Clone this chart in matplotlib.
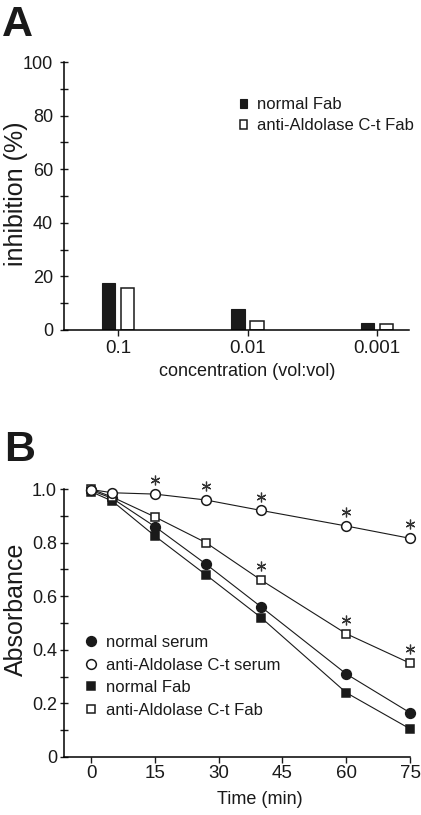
import numpy as np
import matplotlib
matplotlib.use("Agg")
import matplotlib.pyplot as plt
from matplotlib.lines import Line2D
from matplotlib.patches import Patch

plt.rcParams['font.family'] = ['Liberation Sans', 'DejaVu Sans']
plt.rcParams['text.color'] = '#1a1a1a'
plt.rcParams['axes.labelcolor'] = '#1a1a1a'
plt.rcParams['xtick.color'] = '#1a1a1a'
plt.rcParams['ytick.color'] = '#1a1a1a'

# ---- panel A data ----
concentracoes = ['0.1', '0.01', '0.001']
inib_normal_fab = [17.6, 7.7, 2.5]
inib_anti_fab = [15.6, 3.4, 2.2]

# ---- panel B data ----
tempo = [0, 5, 15, 27, 40, 60, 75]
normal_serum = [0.995, 0.965, 0.86, 0.72, 0.56, 0.31, 0.165]
anti_serum = [0.998, 0.986, 0.981, 0.959, 0.92, 0.862, 0.816]
normal_fab = [0.99, 0.955, 0.825, 0.68, 0.52, 0.24, 0.105]
anti_fab = [1.0, 0.97, 0.896, 0.80, 0.66, 0.46, 0.35]
sig_anti_serum = [False, False, True, True, True, True, True]
sig_anti_fab = [False, False, False, False, True, True, True]

fig = plt.figure(figsize=(4.21, 8.15), dpi=100)

# ================= A =================
axA = fig.add_axes([0.1520, 0.5951, 0.8195, 0.3288])
x = np.arange(len(concentracoes))
larg = 0.104
desl = 0.073
axA.bar(x - desl, inib_normal_fab, larg, color='#1a1a1a', edgecolor='#1a1a1a', lw=0.8,
        label='normal Fab')
axA.bar(x + desl, inib_anti_fab, larg, color='white', edgecolor='#1a1a1a', lw=1.1,
        label='anti-Aldolase C-t Fab')
axA.set_xlim(-0.417, 2.247)
axA.set_ylim(0, 100)
axA.set_xticks(x)
axA.set_xticklabels(concentracoes)
axA.set_yticks(np.arange(0, 101, 20))
axA.set_yticks(np.arange(10, 100, 20), minor=True)
axA.tick_params(axis='y', which='both', direction='inout', length=6, width=1, labelsize=13, pad=5)
axA.tick_params(axis='x', direction='out', length=4, width=1, labelsize=13.5, pad=3)
for s in ['top', 'right']:
    axA.spines[s].set_visible(False)
for s in ['left', 'bottom']:
    axA.spines[s].set_linewidth(1.1)
axA.set_ylabel('inhibition (%)', fontsize=18)
axA.yaxis.set_label_coords(-0.104, 0.51)
axA.set_xlabel('concentration (vol:vol)', fontsize=13)
axA.xaxis.set_label_coords((1 + 0.417) / 2.664, -0.125)
hA = [Patch(facecolor='#1a1a1a', edgecolor='#1a1a1a', lw=0.8),
      Patch(facecolor='white', edgecolor='#1a1a1a', lw=1.1)]
axA.legend(hA, ['normal Fab', 'anti-Aldolase C-t Fab'], loc='upper left',
           bbox_to_anchor=(0.51, 0.868), frameon=False, fontsize=12,
           handlelength=0.45, handleheight=0.45, handletextpad=0.55,
           labelspacing=0.35, borderpad=0, borderaxespad=0)

fig.text(0.005, 0.994, 'A', fontsize=31, fontweight='bold', va='top', ha='left')

# ================= B =================
axB = fig.add_axes([0.1520, 0.0712, 0.8219, 0.3288])
tempo = np.array(tempo)
lw = 0.8
series = [
    (normal_fab, 's', '#1a1a1a', 5.4, 'normal Fab'),
    (normal_serum, 'o', '#1a1a1a', 7.0, 'normal serum'),
    (anti_fab, 's', 'white', 5.4, 'anti-Aldolase C-t Fab'),
    (anti_serum, 'o', 'white', 7.0, 'anti-Aldolase C-t serum'),
]
for i, (vals, mk, fc, ms, lab) in enumerate(series):
    axB.plot(tempo, vals, '-', color='#1a1a1a', lw=lw, marker=mk, mfc=fc, mec='#1a1a1a',
             ms=ms, mew=1.1, clip_on=False, zorder=3 + i)

# asteriscos de significancia
off = 0.052
for vals, sig in [(anti_serum, sig_anti_serum), (anti_fab, sig_anti_fab)]:
    vals = np.array(vals)
    sig = np.array(sig)
    axB.plot(tempo[sig], vals[sig] + off, ls='none', marker=(6, 2, 0), ms=7,
             mew=0.9, color='#333333', clip_on=False, zorder=10)

axB.set_xlim(-6.35, 75)
axB.set_ylim(0, 1.0)
axB.set_xticks([0, 15, 30, 45, 60, 75])
axB.set_yticks([0, 0.2, 0.4, 0.6, 0.8, 1.0])
axB.set_yticklabels(['0', '0.2', '0.4', '0.6', '0.8', '1.0'])
axB.set_yticks(np.arange(0.1, 1.0, 0.2), minor=True)
axB.tick_params(axis='y', which='both', direction='inout', length=6, width=1, labelsize=13, pad=2)
axB.tick_params(axis='x', direction='out', length=4, width=1, labelsize=13.5, pad=2)
for s in ['top', 'right']:
    axB.spines[s].set_visible(False)
for s in ['left', 'bottom']:
    axB.spines[s].set_linewidth(1.1)
axB.set_ylabel('Absorbance', fontsize=18)
axB.yaxis.set_label_coords(-0.104, 0.55)
axB.set_xlabel('Time (min)', fontsize=13)
axB.xaxis.set_label_coords(0.566, -0.128)

hB = [Line2D([], [], ls='none', marker='o', mfc='#1a1a1a', mec='#1a1a1a', ms=7, mew=1.1),
      Line2D([], [], ls='none', marker='o', mfc='white', mec='#1a1a1a', ms=7, mew=1.1),
      Line2D([], [], ls='none', marker='s', mfc='#1a1a1a', mec='#1a1a1a', ms=5.4, mew=1.1),
      Line2D([], [], ls='none', marker='s', mfc='white', mec='#1a1a1a', ms=5.4, mew=1.1)]
axB.legend(hB, ['normal serum', 'anti-Aldolase C-t serum', 'normal Fab',
                'anti-Aldolase C-t Fab'], loc='upper left', bbox_to_anchor=(0.06, 0.455),
           frameon=False, fontsize=12, handlelength=0.75, handletextpad=0.5,
           labelspacing=0.45, borderpad=0, borderaxespad=0)

fig.text(0.01, 0.472, 'B', fontsize=31, fontweight='bold', va='top', ha='left')

fig.savefig('out.png', dpi=100)
